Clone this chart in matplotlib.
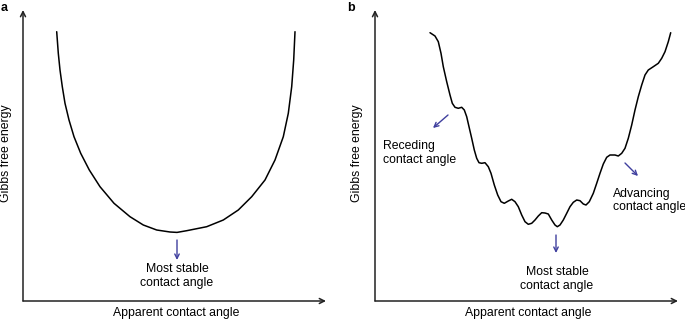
import matplotlib
matplotlib.use('Agg')
import matplotlib.pyplot as plt

plt.rcParams['font.family'] = ['Liberation Sans', 'DejaVu Sans']

# energy curves (pixel offsets from each axis origin)
a_x = [33.7, 35.3, 37.0, 39.3, 42.0, 46.0, 51.0, 57.7, 66.3, 77.0, 91.0, 107.0, 120.3, 133.7,
       147.0, 154.0, 163.7, 183.7, 200.3, 215.3, 228.7, 242.0, 252.0, 260.3, 265.3, 268.7,
       270.7, 272.0]
a_y = [269.3, 247.7, 231.0, 214.3, 197.7, 181.0, 164.3, 147.7, 131.0, 114.3, 97.7, 84.3, 76.0,
       71.0, 69.0, 68.6, 70.3, 74.3, 81.0, 91.0, 104.3, 121.0, 141.0, 164.3, 187.7, 214.3,
       241.0, 269.3]

b_x = [55.0, 60.0, 63.3, 66.0, 68.3, 71.7, 75.0, 77.3, 80.0, 83.3, 86.7, 89.3, 91.7, 94.0,
       96.7, 99.3, 101.7, 104.0, 106.7, 110.0, 113.3, 116.0, 119.3, 122.7, 126.0, 129.3,
       133.3, 136.7, 140.0, 143.3, 146.7, 150.0, 153.3, 156.7, 160.0, 163.3, 166.7, 170.0,
       173.3, 176.7, 180.0, 182.3, 185.0, 188.3, 191.7, 195.0, 198.3, 201.7, 205.0, 208.3,
       211.0, 214.3, 218.3, 221.7, 225.0, 228.3, 231.7, 235.0, 240.0, 243.3, 246.7, 250.0,
       253.3, 256.7, 260.0, 263.3, 266.7, 270.0, 273.3, 278.3, 283.3, 286.7, 290.0, 293.3,
       295.7]
b_y = [268.3, 265.0, 259.3, 247.7, 234.3, 219.3, 206.0, 197.7, 193.7, 192.7, 193.7, 191.0,
       184.3, 174.3, 162.7, 151.0, 142.7, 138.3, 137.7, 138.3, 134.3, 127.7, 116.0, 106.0,
       99.3, 97.7, 100.0, 101.7, 99.3, 94.3, 86.0, 79.3, 76.7, 77.7, 81.0, 85.0, 88.3, 88.0,
       87.0, 81.0, 76.0, 74.3, 76.0, 81.0, 87.7, 94.3, 98.7, 101.0, 100.3, 97.0, 96.0, 99.3,
       107.7, 117.7, 127.7, 137.0, 143.7, 146.0, 146.0, 145.0, 147.7, 152.7, 162.7, 176.0,
       191.0, 204.3, 216.0, 226.0, 231.0, 234.3, 237.7, 242.7, 249.3, 259.3, 268.3]

W, H = 685, 321
fig = plt.figure(figsize=(6.85, 3.21), dpi=100)
blue = '#3f3f9e'
fs = 8.8


def px(x, y):
    return x / W, 1 - y / H


def make_axes(x0, y0, w, h):
    ax = fig.add_axes([x0 / W, (H - y0) / H, w / W, h / H])
    ax.set_xlim(0, w)
    ax.set_ylim(0, h)
    ax.axis('off')
    kw = dict(arrowprops=dict(arrowstyle='->', color='#222222', lw=1.1, mutation_scale=9,
                              shrinkA=0, shrinkB=0), xycoords='axes fraction', annotation_clip=False)
    ax.annotate('', xy=(1, 0), xytext=(0, 0), **kw)
    ax.annotate('', xy=(0, 1), xytext=(0, 0), **kw)
    return ax


def arrow(ax, x0, y0, x1, y1):
    ax.annotate('', xy=(x1, y1), xytext=(x0, y0),
                arrowprops=dict(arrowstyle='->', color=blue, lw=1.0, mutation_scale=8,
                                shrinkA=0, shrinkB=0))


# panel a
ax1 = make_axes(23, 301, 303, 291)
ax1.plot(a_x, a_y, color='black', lw=1.1, solid_capstyle='round', solid_joinstyle='round')
arrow(ax1, 154, 61, 154, 41)
ax1.text(154, 25, 'Most stable\ncontact angle', ha='center', va='center', fontsize=fs,
         linespacing=1.2)
fig.text(*px(176, 313), 'Apparent contact angle', ha='center', va='center', fontsize=fs)
fig.text(*px(6, 153), 'Gibbs free energy', ha='center', va='center', rotation=90, fontsize=fs)
fig.text(*px(1, 8), 'a', ha='left', va='center', fontsize=9, fontweight='bold')

# panel b
ax2 = make_axes(375, 301, 303, 291)
ax2.plot(b_x, b_y, color='black', lw=1.1, solid_capstyle='round', solid_joinstyle='round')
arrow(ax2, 73, 186, 58, 173)
arrow(ax2, 250, 138, 263, 125)
arrow(ax2, 181, 66, 181, 48)
ax2.text(8, 148, 'Receding\ncontact angle', ha='left', va='center', fontsize=fs, linespacing=1.15)
ax2.text(238, 100.5, 'Advancing\ncontact angle', ha='left', va='center', fontsize=fs,
         linespacing=1.15, clip_on=False)
ax2.text(182, 22, 'Most stable\ncontact angle', ha='center', va='center', fontsize=fs,
         linespacing=1.15)
fig.text(*px(528, 313), 'Apparent contact angle', ha='center', va='center', fontsize=fs)
fig.text(*px(357, 153), 'Gibbs free energy', ha='center', va='center', rotation=90, fontsize=fs)
fig.text(*px(347, 8), 'b', ha='left', va='center', fontsize=9, fontweight='bold')

fig.savefig('out.png', dpi=100)
